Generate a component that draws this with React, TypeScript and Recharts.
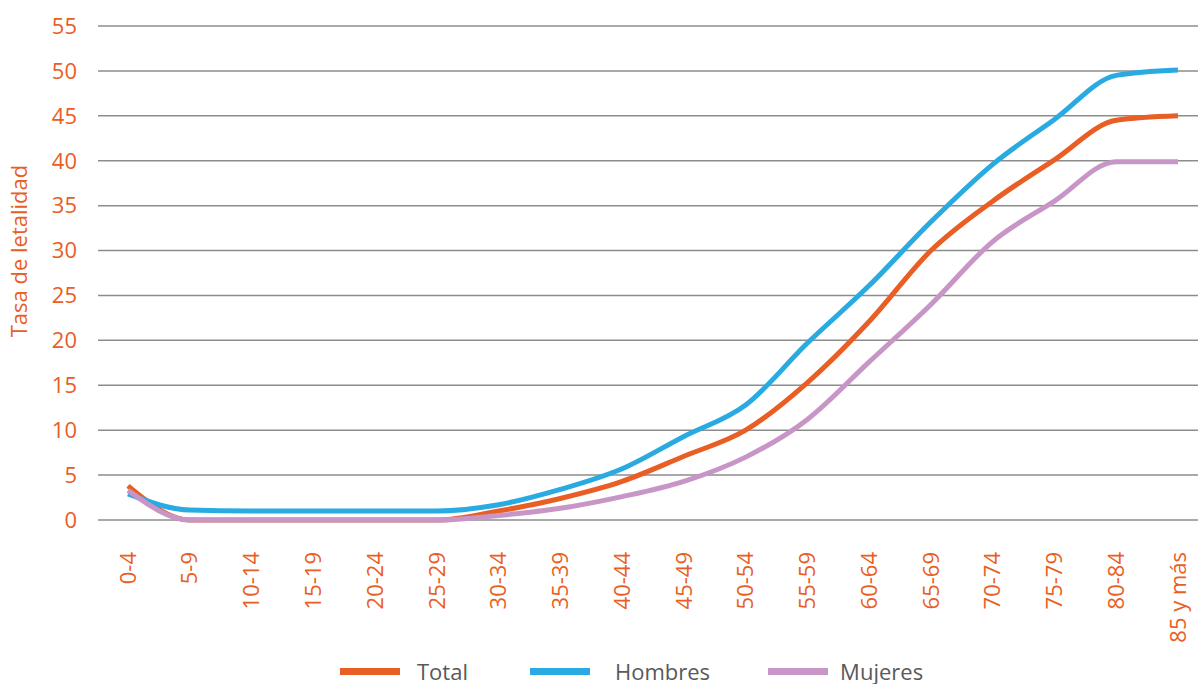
import { CartesianGrid, Legend, Line, LineChart, XAxis, YAxis } from 'recharts';

const ageGroups = [
  '0-4', '5-9', '10-14', '15-19', '20-24', '25-29', '30-34', '35-39', '40-44',
  '45-49', '50-54', '55-59', '60-64', '65-69', '70-74', '75-79', '80-84', '85 y más',
];

const totalRate = [3.8, 0, 0, 0, 0, 0, 1.0, 2.4, 4.3, 7.1, 10.0, 15.3, 22.1, 30.0, 35.5, 40.1, 44.5, 45.0];
const menRate = [2.9, 1.1, 1.0, 1.0, 1.0, 1.0, 1.7, 3.4, 5.7, 9.3, 12.8, 19.7, 26.1, 33.2, 39.6, 44.6, 49.5, 50.1];
const womenRate = [3.3, 0, 0, 0, 0, 0, 0.5, 1.3, 2.6, 4.3, 7.0, 11.2, 17.6, 24.0, 31.0, 35.5, 39.9, 39.9];

const yTicks = [0, 5, 10, 15, 20, 25, 30, 35, 40, 45, 50, 55];

const ORANGE = '#e95e24';
const BLUE = '#29abe2';
const PINK = '#c896c6';
const FONT = '"Open Sans", "Noto Sans", sans-serif';

const series = [
  { key: 'total', name: 'Total', color: ORANGE },
  { key: 'hombres', name: 'Hombres', color: BLUE },
  { key: 'mujeres', name: 'Mujeres', color: PINK },
];

const data = ageGroups.map((age, i) => ({
  age,
  total: totalRate[i],
  hombres: menRate[i],
  mujeres: womenRate[i],
}));

function AgeTick(props: any) {
  const { x, y, payload } = props;
  return (
    <text
      x={x}
      y={y + 32}
      dy='0.35em'
      transform={`rotate(-90, ${x}, ${y + 32})`}
      textAnchor='end'
      fill={ORANGE}
      fontSize={22}
      fontFamily={FONT}
    >
      {payload.value}
    </text>
  );
}

function AxisTitle(props: any) {
  const { viewBox } = props;
  const cx = 27;
  const cy = viewBox.y + viewBox.height / 2 - 22;
  return (
    <text
      x={cx}
      y={cy}
      transform={`rotate(-90, ${cx}, ${cy})`}
      textAnchor='middle'
      fill={ORANGE}
      fontSize={22}
      fontFamily={FONT}
    >
      Tasa de letalidad
    </text>
  );
}

// legend item spacing: gap before the swatch, gap between swatch and name
const legendOffsets = [340, 62, 58];
const legendTextGaps = [17, 25, 12];

function LegendRow() {
  return (
    <div style={{ display: 'flex', alignItems: 'center', paddingTop: 4, fontFamily: FONT }}>
      {series.map((s, i) => (
        <div
          key={s.key}
          style={{ display: 'flex', alignItems: 'center', marginLeft: legendOffsets[i] }}
        >
          <span style={{ display: 'inline-block', width: 60, height: 7, background: s.color }} />
          <span style={{ marginLeft: legendTextGaps[i], fontSize: 22, color: '#595959', lineHeight: '26px' }}>
            {s.name}
          </span>
        </div>
      ))}
    </div>
  );
}

export default function App() {
  return (
    <div style={{ position: 'absolute', left: 0, top: 0, background: '#fff' }}>
      <LineChart
        width={1198}
        height={684}
        data={data}
        margin={{ top: 26, right: 0, bottom: 0, left: 0 }}
      >
        <CartesianGrid vertical={false} stroke='#8c8c8c' strokeWidth={1.5} />
        <XAxis
          dataKey='age'
          axisLine={false}
          tickLine={false}
          tickSize={0}
          tickMargin={0}
          interval={0}
          height={134}
          padding={{ left: 30, right: 20 }}
          tick={<AgeTick />}
        />
        <YAxis
          domain={[0, 55]}
          ticks={yTicks}
          width={98}
          axisLine={false}
          tickLine={false}
          tickSize={0}
          tickMargin={21}
          tick={{ fill: ORANGE, fontSize: 22, fontFamily: FONT }}
          label={<AxisTitle />}
        />
        <Legend verticalAlign='bottom' height={30} content={<LegendRow />} />
        {series.map(s => (
          <Line
            key={s.key}
            type='monotone'
            dataKey={s.key}
            name={s.name}
            stroke={s.color}
            strokeWidth={5}
            dot={false}
            activeDot={false}
            isAnimationActive={false}
          />
        ))}
      </LineChart>
    </div>
  );
}
